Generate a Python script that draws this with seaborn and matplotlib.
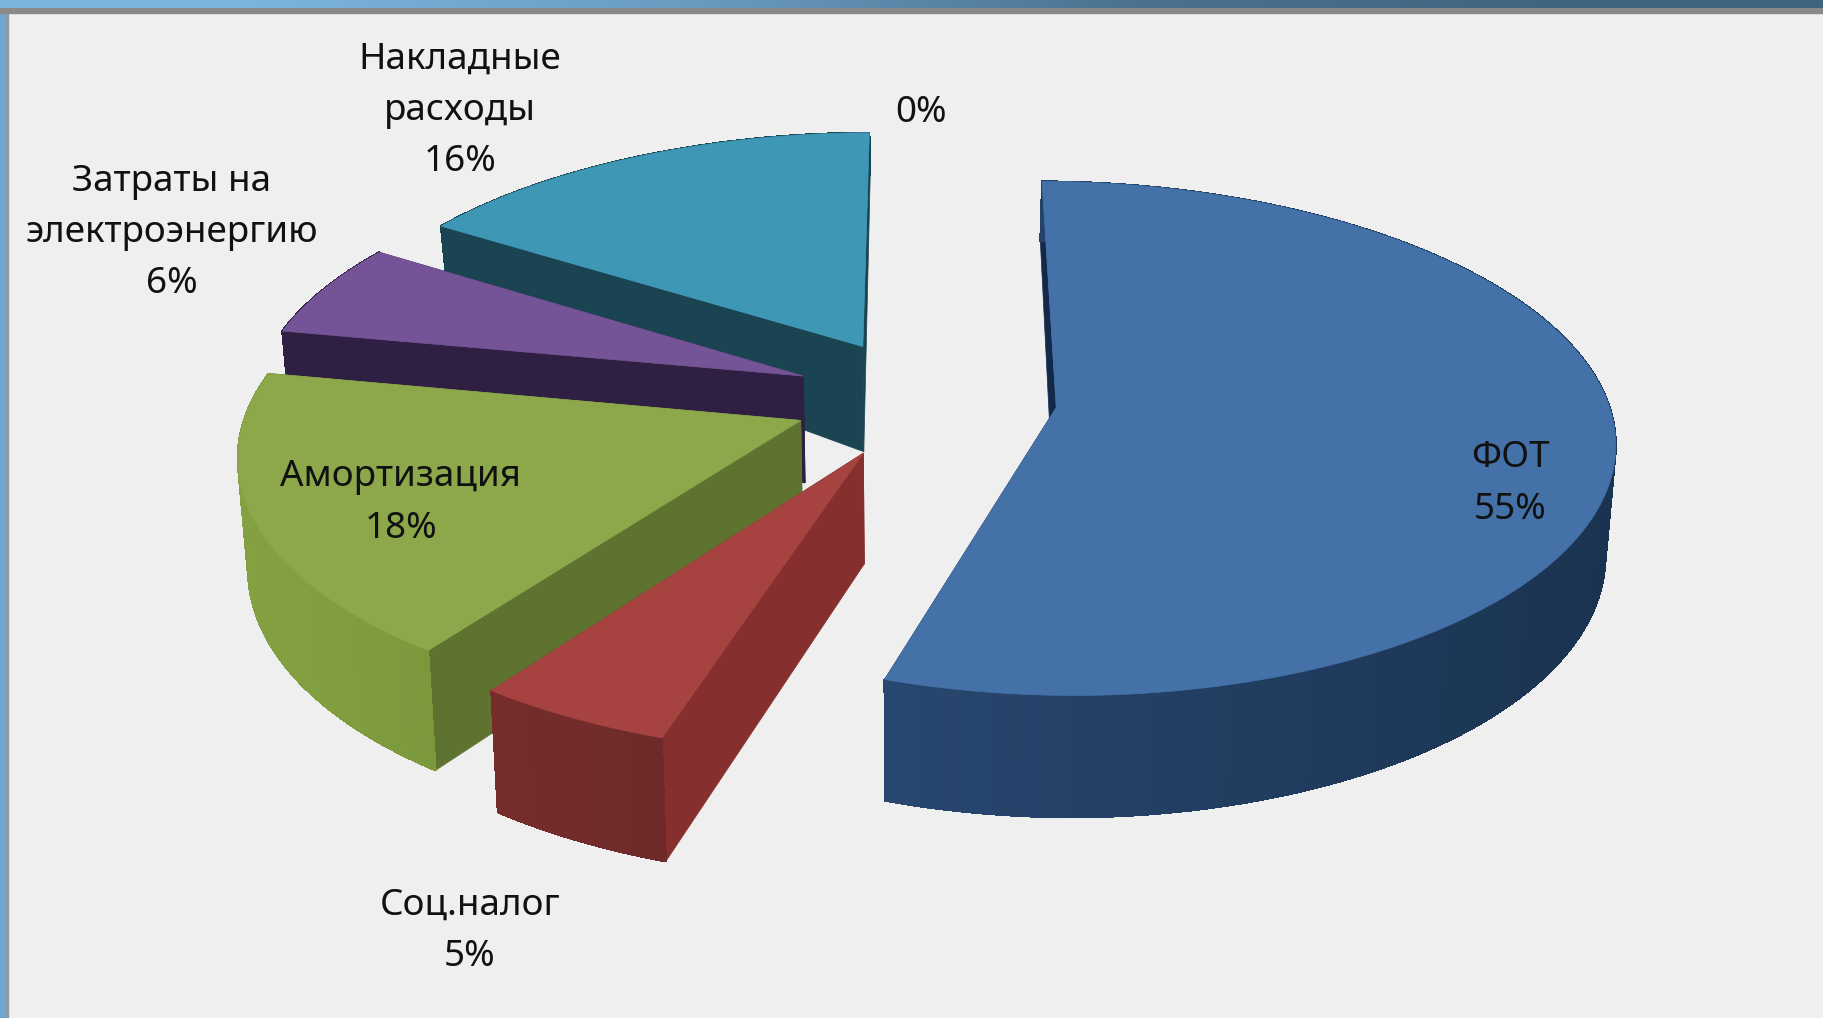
import numpy as np
import seaborn as sns
import matplotlib.pyplot as plt
from matplotlib.patches import Polygon, Rectangle
from matplotlib.colors import to_rgb

# data
categories = ['ФОТ', 'Соц.налог', 'Амортизация', 'Затраты на\nэлектроэнергию', 'Накладные\nрасходы', '']
shares = [55, 5, 18, 6, 16, 0]

top_colors = ['#4472A8', '#A64340', '#8CA84B', '#745496', '#3E97B4', '#F08030']
side_colors = ['#14294A', '#85302F', '#5E7330', '#2F1F42', '#1A4452', '#F08030']
rim_left = ['#284770', '#762C2B', '#84A142', '#2F1F42', '#1A4452', '#F08030']
rim_right = ['#1A3350', '#6E2A2A', '#7B993C', '#2F1F42', '#1A4452', '#F08030']

label_x = [1510, 470, 401, 172, 460, 921]
label_y = [484, 931, 503, 233, 111, 113]

# камера
cx, cy = 925, 398
rx, ry = 551, 251
persp = 0.12
explode = 0.24
warp = 1.02
depth_y = [-1.2, 0.3, 1.25]
depth_px = [124, 104, 40]

sns.set_theme(style='white')
plt.rcParams['font.family'] = ['Noto Sans', 'DejaVu Sans']


def project(X, Y, bottom=False):
    X = np.asarray(X, dtype=float)
    Y = np.asarray(Y, dtype=float)
    ps = 1 / (1 + persp * Y)
    sx = cx + rx * X * ps
    sy = cy - ry * Y * ps
    if bottom:
        sx = cx + (sx - cx) * 0.985
        sy = sy + np.interp(Y, depth_y, depth_px)
    return sx, sy


fig = plt.figure(figsize=(18.24, 10.18), dpi=100)
ax = fig.add_axes([0, 0, 1, 1])

# окно
ax.add_patch(Rectangle((0, 0), 1824, 1018, color='#EFEFEF', zorder=0))
ax.add_patch(Rectangle((0, 0), 8, 1018, color='#8C9AA5', zorder=1))
ax.add_patch(Rectangle((0, 0), 4, 1018, color='#6FA6D2', zorder=1))
ax.add_patch(Rectangle((0, 8), 1824, 5, color='#8A8A8A', zorder=1))
grad = np.array([to_rgb('#7DB5DF'), to_rgb('#6A9CC0'), to_rgb('#4A7290'), to_rgb('#3F647F')])
grad = grad[np.newaxis, :, :]
ax.imshow(grad, extent=(0, 1824, 8, 0), aspect='auto', interpolation='bilinear', zorder=2)
ax.set_xlim(0, 1824)
ax.set_ylim(1018, 0)
ax.axis('off')

# срезы
edges = np.cumsum([0] + shares) / sum(shares) * 2 * np.pi
order = [4, 3, 0, 2, 1]
z = 3
for i in order:
    a0, a1 = edges[i], edges[i + 1]
    mid = (a0 + a1) / 2
    ox, oy = explode * np.sin(mid), explode * np.cos(mid)
    t = np.linspace(a0, a1, max(int(shares[i] * 4), 8))
    X = ox + np.sign(np.sin(t)) * np.abs(np.sin(t)) ** warp
    Y = oy + np.cos(t)

    tx, ty = project(X, Y)
    bx, by = project(X, Y, bottom=True)
    ax_, ay_ = project(ox, oy)
    bax, bay = project(ox, oy, bottom=True)

    # радиальные стенки
    ax.add_patch(Polygon([(ax_, ay_), (tx[0], ty[0]), (bx[0], by[0]), (bax, bay)],
                         closed=True, fc=side_colors[i], ec=side_colors[i], lw=0.5, zorder=z))
    ax.add_patch(Polygon([(ax_, ay_), (tx[-1], ty[-1]), (bx[-1], by[-1]), (bax, bay)],
                         closed=True, fc=side_colors[i], ec=side_colors[i], lw=0.5, zorder=z))
    z += 1

    # внешняя стенка с градиентом
    c_l, c_r = np.array(to_rgb(rim_left[i])), np.array(to_rgb(rim_right[i]))
    xspan = tx.max() - tx.min()
    for j in range(len(t) - 1):
        f = ((tx[j] + tx[j + 1]) / 2 - tx.min()) / xspan
        col = c_l * (1 - f) + c_r * f
        ax.add_patch(Polygon([(tx[j], ty[j]), (tx[j + 1], ty[j + 1]), (bx[j + 1], by[j + 1]), (bx[j], by[j])],
                             closed=True, fc=col, ec=col, lw=0.8, antialiased=False, zorder=z))
    z += 1

    # верх
    pts = [(ax_, ay_)] + list(zip(tx, ty))
    ax.add_patch(Polygon(pts, closed=True, fc=top_colors[i], ec=top_colors[i], lw=0.5, zorder=z))
    z += 1

# подписи
for name, val, x, y in zip(categories, shares, label_x, label_y):
    txt = f'{val}%' if name == '' else f'{name}\n{val}%'
    ax.text(x, y, txt, ha='center', va='center', fontsize=26.5, linespacing=1.56,
            color='#111111', zorder=z)

fig.savefig('out.png', dpi=100)
plt.close(fig)
